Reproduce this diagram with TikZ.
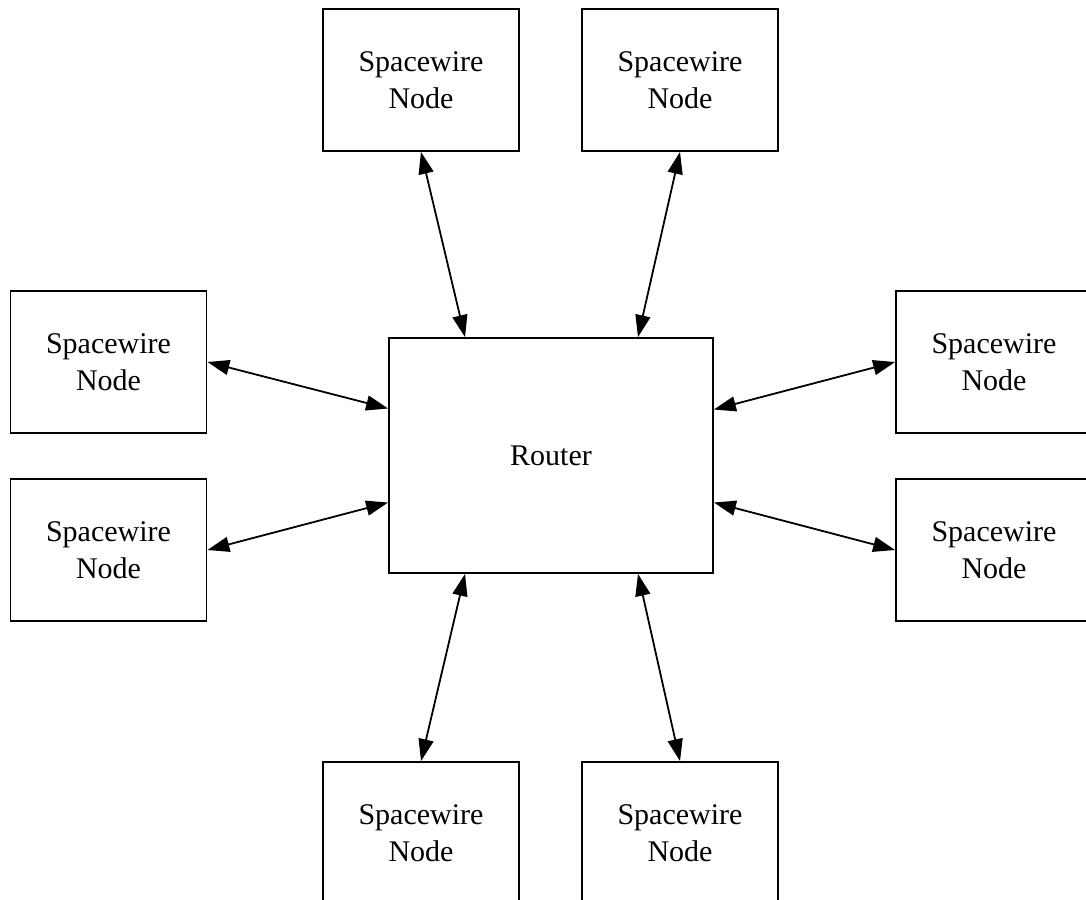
\documentclass[tikz,border=0pt]{standalone}
\usepackage{fontspec}
\setmainfont{Liberation Serif}
\usetikzlibrary{arrows.meta}
\begin{document}
\begin{tikzpicture}[x=1pt,y=-1pt,
  swnode/.style={draw,line width=1.8pt,minimum width=196pt,minimum height=142pt,inner sep=0pt,align=center,font=\fontsize{30}{37}\selectfont},
  router/.style={draw,line width=1.8pt,minimum width=324pt,minimum height=235pt,inner sep=0pt,font=\fontsize{30}{37}\selectfont},
  link/.style={line width=1.8pt,{Triangle[length=22pt,width=15pt]}-{Triangle[length=22pt,width=15pt]}}]
\useasboundingbox (0,0) rectangle (1086,899);
\fill[white] (0,0) rectangle (1086,899);
\node[router] (r) at (551,455.5) {Router};
\node[swnode] (t1) at (421,80) {Spacewire\\Node};
\node[swnode] (t2) at (680,80) {Spacewire\\Node};
\node[swnode] (l1) at (108.5,362) {Spacewire\\Node};
\node[swnode] (l2) at (108.5,550) {Spacewire\\Node};
\node[swnode] (r1) at (994,362) {Spacewire\\Node};
\node[swnode] (r2) at (994,550) {Spacewire\\Node};
\node[swnode] (b1) at (421,833) {Spacewire\\Node};
\node[swnode] (b2) at (680,833) {Spacewire\\Node};
\draw[link] (t1.south) -- ([xshift=-86pt]r.north);
\draw[link] (t2.south) -- ([xshift=87pt]r.north);
\draw[link] (l1.east) -- ([yshift=47pt]r.west);
\draw[link] (l2.east) -- ([yshift=-47pt]r.west);
\draw[link] (r1.west) -- ([yshift=46pt]r.east);
\draw[link] (r2.west) -- ([yshift=-47pt]r.east);
\draw[link] (b1.north) -- ([xshift=-86pt]r.south);
\draw[link] (b2.north) -- ([xshift=87pt]r.south);
\end{tikzpicture}
\end{document}
